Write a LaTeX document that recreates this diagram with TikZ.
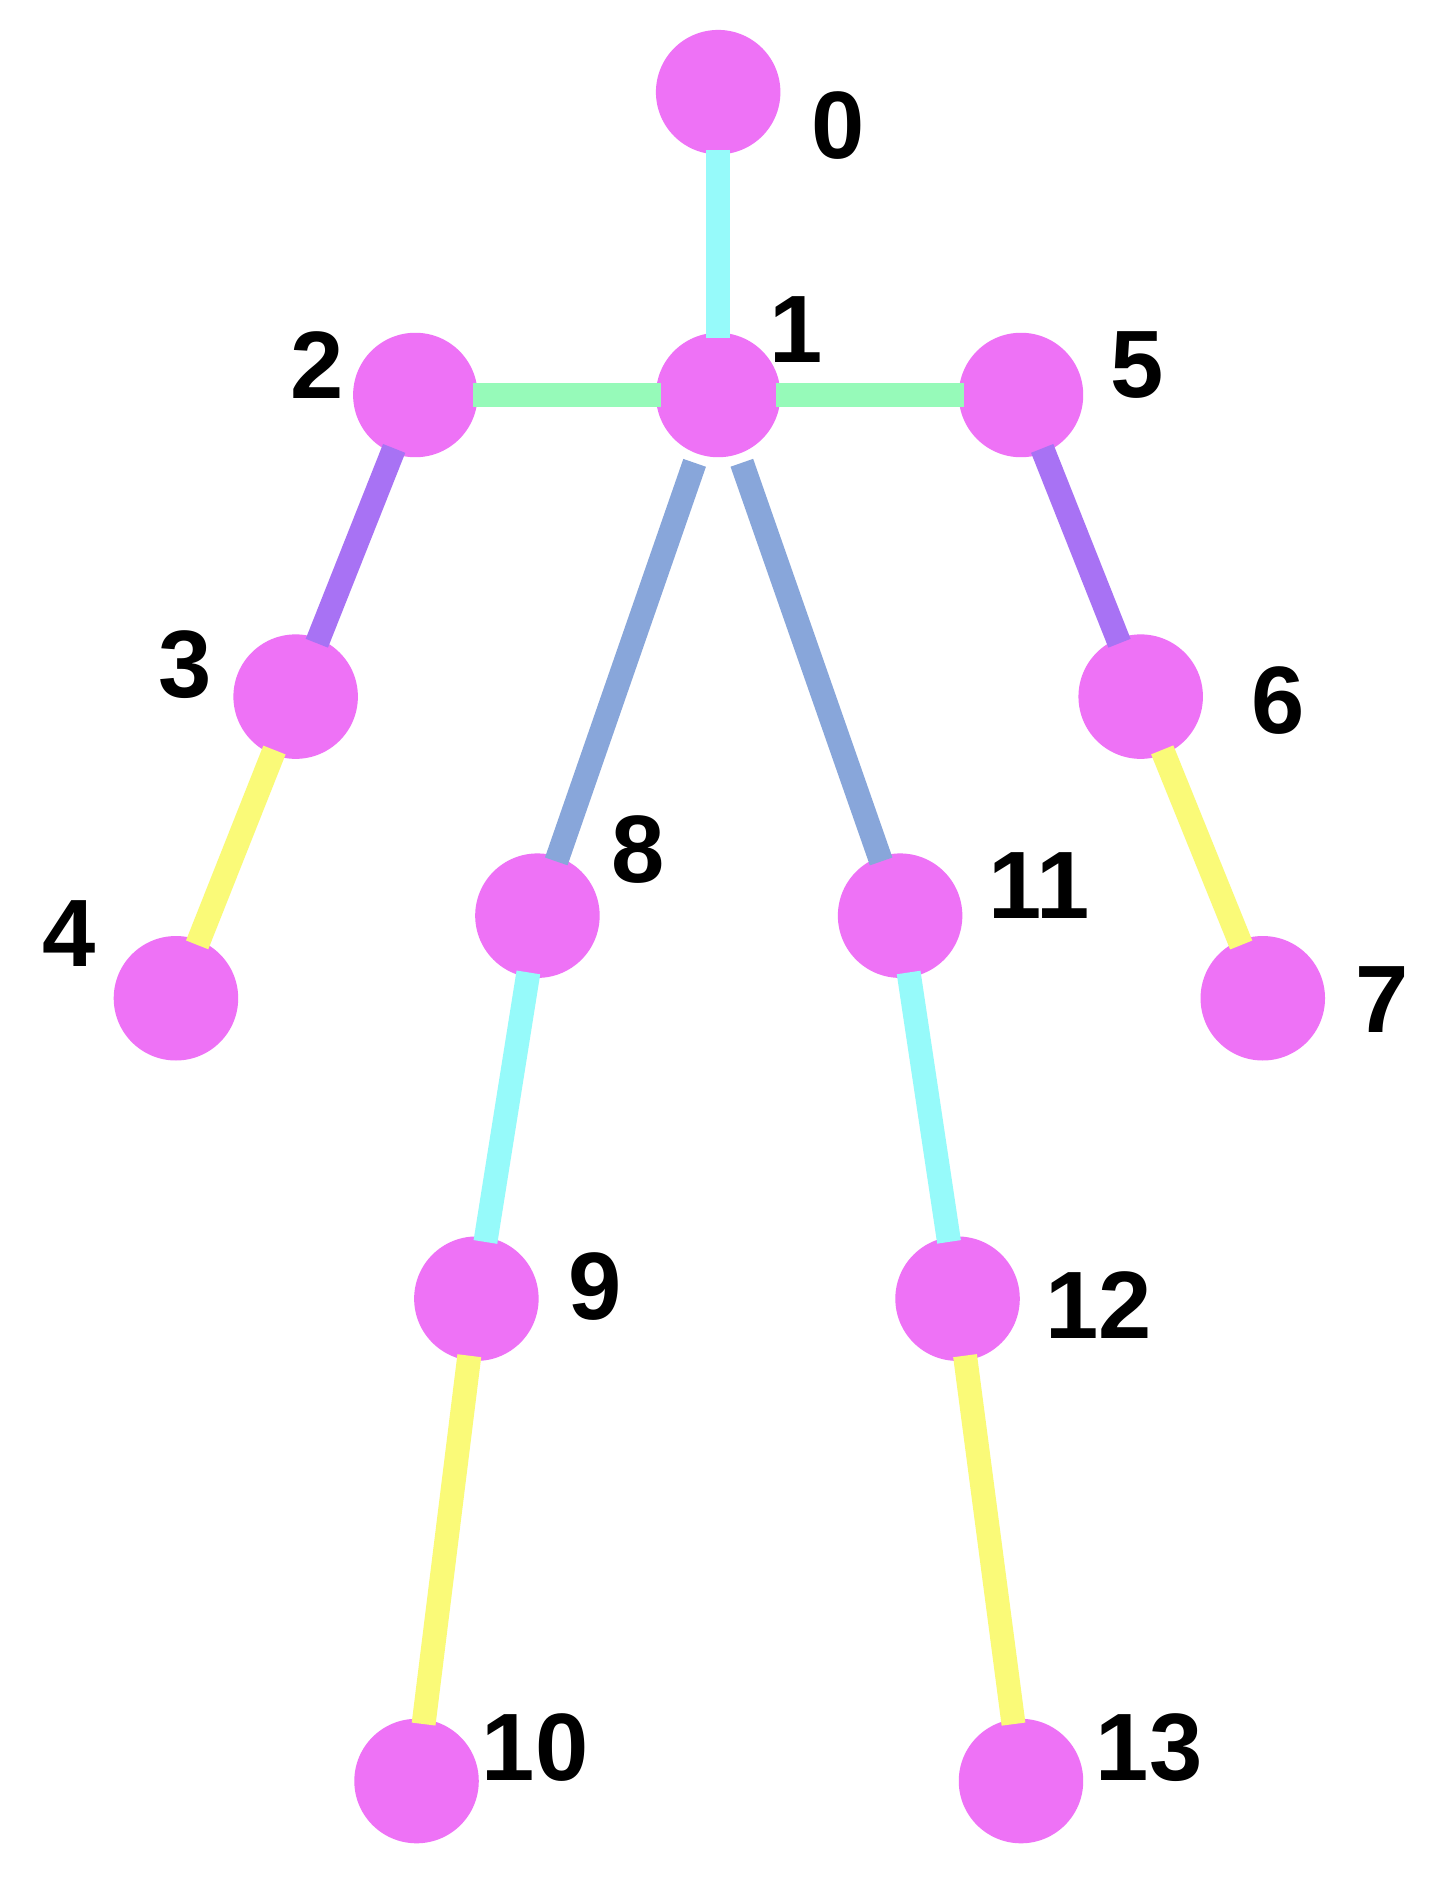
\documentclass[tikz,border=0pt]{standalone}
\usepackage{fontspec}
\setmainfont{Liberation Sans}
\definecolor{jt}{HTML}{EE72F6}
\definecolor{ccyan}{HTML}{96FAFA}
\definecolor{cgreen}{HTML}{96FAB9}
\definecolor{cpurple}{HTML}{A872F4}
\definecolor{cyellow}{HTML}{FAFA78}
\definecolor{cblue}{HTML}{88A6DA}
\begin{document}
\begin{tikzpicture}[x=0.5pt,y=-0.5pt,
  joint/.style={circle,fill=jt,minimum size=52pt,inner sep=0pt},
  lbl/.style={font=\fontsize{40}{40}\selectfont\bfseries,inner sep=0pt},
  bone/.style={line width=10pt,shorten >=24pt,shorten <=24pt}]
\useasboundingbox (0,0) rectangle (1200,1569);
\fill[white] (0,0) rectangle (1200,1569);
\node[joint] (n0) at (600,77) {};
\node[joint] (n1) at (600,330) {};
\node[joint] (n2) at (347,330) {};
\node[joint] (n3) at (247,582) {};
\node[joint] (n4) at (147,834) {};
\node[joint] (n5) at (853,330) {};
\node[joint] (n6) at (953,582) {};
\node[joint] (n7) at (1055,834) {};
\node[joint] (n8) at (449,765) {};
\node[joint] (n9) at (398,1085) {};
\node[joint] (n10) at (348,1488) {};
\node[joint] (n11) at (752,765) {};
\node[joint] (n12) at (800,1085) {};
\node[joint] (n13) at (853,1488) {};
\draw[bone,ccyan] (n0.center) -- (n1.center);
\draw[bone,cgreen] (n1.center) -- (n2.center);
\draw[bone,cgreen] (n1.center) -- (n5.center);
\draw[bone,cpurple] (n2.center) -- (n3.center);
\draw[bone,cpurple] (n5.center) -- (n6.center);
\draw[bone,cyellow] (n3.center) -- (n4.center);
\draw[bone,cyellow] (n6.center) -- (n7.center);
\draw[bone,cblue,shorten <=30pt] (n1.center) -- (n8.center);
\draw[bone,cblue,shorten <=30pt] (n1.center) -- (n11.center);
\draw[bone,ccyan] (n8.center) -- (n9.center);
\draw[bone,ccyan] (n11.center) -- (n12.center);
\draw[bone,cyellow] (n9.center) -- (n10.center);
\draw[bone,cyellow] (n12.center) -- (n13.center);
\node[lbl] (l0) at (700,105) {0};
\node[lbl] (l1) at (665,275) {1};
\node[lbl] (l2) at (265,305) {2};
\node[lbl] (l3) at (155,555) {3};
\node[lbl] (l4) at (58,780) {4};
\node[lbl] (l5) at (950,305) {5};
\node[lbl] (l6) at (1068,585) {6};
\node[lbl] (l7) at (1155,835) {7};
\node[lbl] (l8) at (533,710) {8};
\node[lbl] (l9) at (497,1075) {9};
\node[lbl] (l10) at (447,1460) {10};
\node[lbl] (l11) at (868,740) {11};
\node[lbl] (l12) at (918,1090) {12};
\node[lbl] (l13) at (960,1460) {13};
\end{tikzpicture}
\end{document}
